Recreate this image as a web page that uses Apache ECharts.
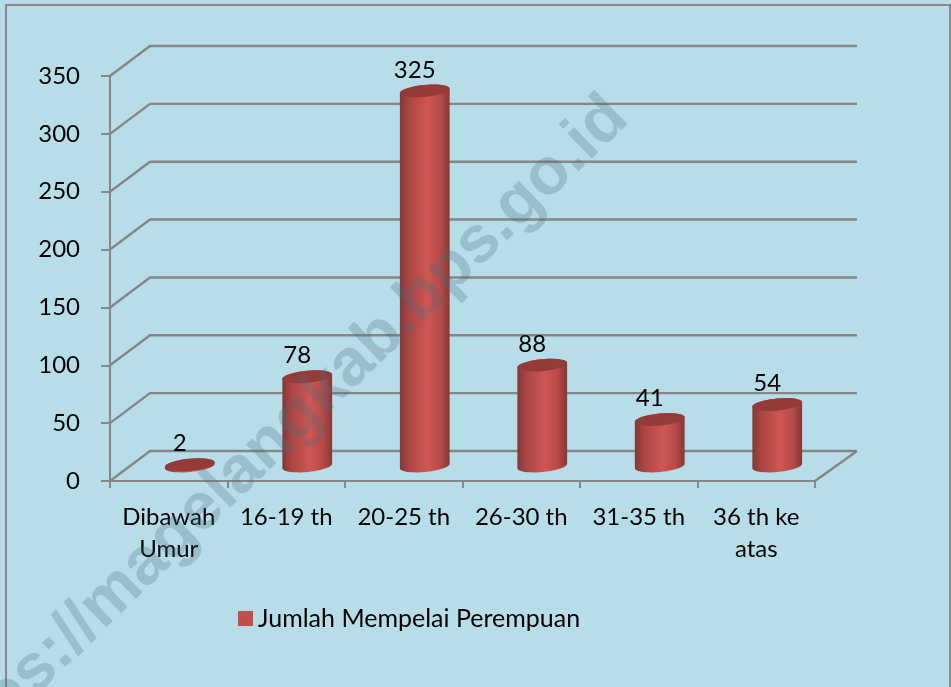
<!DOCTYPE html>
<html><head><meta charset="utf-8">
<style>html,body{margin:0;padding:0;background:#B7DDE8}#c{width:951px;height:687px}</style>
<script src="https://cdn.jsdelivr.net/npm/echarts@6/dist/echarts.min.js"></script>
</head><body><div id="c"></div>
<script>
const categories = ['Dibawah\nUmur','16-19 th','20-25 th','26-30 th','31-35 th','36 th ke\natas'];
const values = [2,78,325,88,41,54];
const yTicks = [0,50,100,150,200,250,300,350];
const seriesName = 'Jumlah Mempelai Perempuan';
const watermark = 'https://magelangkab.bps.go.id';

const FONT = 'Lato';
const AXIS = '#868686';
const DX = 40, DXR = 42, DY = -30;

function ell(cx, cy, rx, ry, a, t0, t1, n) {
  const pts = [];
  for (let i = 0; i <= n; i++) {
    const t = t0 + (t1 - t0) * i / n;
    const x = rx * Math.cos(t), y = ry * Math.sin(t);
    pts.push([cx + x * Math.cos(a) - y * Math.sin(a), cy + x * Math.sin(a) + y * Math.cos(a)]);
  }
  return pts;
}

const chart = echarts.init(document.getElementById('c'), null, {renderer: 'canvas'});
chart.setOption({
  animation: false,
  backgroundColor: '#B7DDE8',
  textStyle: {fontFamily: FONT},
  grid: {left: 110, right: 136, top: 76, bottom: 206, containLabel: false},
  legend: {
    show: true, left: 233, top: 601, icon: 'rect', itemWidth: 15, itemHeight: 15, itemGap: 5,
    textStyle: {fontFamily: FONT, fontSize: 25, color: '#000'},
    data: [seriesName]
  },
  xAxis: {
    type: 'category', data: categories,
    axisLine: {lineStyle: {color: AXIS, width: 2}},
    axisTick: {show: true, alignWithLabel: false, length: 7, lineStyle: {color: AXIS, width: 2}},
    axisLabel: {fontFamily: FONT, fontSize: 24, color: '#000', margin: 20, lineHeight: 32, interval: 0}
  },
  yAxis: {
    type: 'value', min: 0, max: 350, interval: 50,
    axisLine: {show: true, lineStyle: {color: AXIS, width: 2}},
    axisTick: {show: true, length: 9, lineStyle: {color: AXIS, width: 2}},
    axisLabel: {fontFamily: FONT, fontSize: 24, color: '#000', margin: 30, padding: [6, 0, 0, 0]},
    splitLine: {show: false}
  },
  series: [
    {
      type: 'custom', silent: true, z: 1, legendHoverLink: false,
      coordinateSystem: 'cartesian2d',
      encode: {x: 0, y: 1},
      data: yTicks.map(v => [0, v]),
      renderItem(params, api) {
        const c = api.coord([0, api.value(1)]);
        const band = api.size([1, 0])[0];
        const x0 = c[0] - band / 2, y0 = c[1];
        const x1 = x0 + band * categories.length;
        const style = {stroke: AXIS, lineWidth: 2.4, fill: null};
        const kids = [{type: 'polyline', shape: {points: [[x0, y0], [x0 + DX, y0 + DY], [x1 + DXR, y0 + DY]]}, style}];
        if (api.value(1) === 0) kids.push({type: 'line', shape: {x1: x1, y1: y0, x2: x1 + DXR, y2: y0 + DY}, style});
        return {type: 'group', children: kids};
      }
    },
    {
      name: seriesName, type: 'custom', z: 3,
      coordinateSystem: 'cartesian2d',
      itemStyle: {color: '#C0504D'},
      encode: {x: 0, y: 1},
      data: values.map((v, i) => [i, v]),
      renderItem(params, api) {
        const top = api.coord([api.value(0), api.value(1)]);
        const base = api.coord([api.value(0), 0]);
        const cx = base[0] + 21, by = base[1] - 15, ty = top[1] - 14;
        const rx = 25, ry = 6, a = -5.5 * Math.PI / 180;
        const body = ell(cx, by, rx, ry, a, 0, Math.PI, 24)
          .concat(ell(cx, ty, rx, ry, a, Math.PI, 2 * Math.PI, 24));
        return {type: 'group', children: [
          {type: 'polygon', shape: {points: body}, style: {
            fill: new echarts.graphic.LinearGradient(0, 0, 1, 0, [
              {offset: 0, color: '#843634'}, {offset: 0.18, color: '#a94644'},
              {offset: 0.55, color: '#cf5653'}, {offset: 0.8, color: '#b74c49'},
              {offset: 1, color: '#873835'}])
          }},
          {type: 'polygon', shape: {points: ell(cx, ty, rx, ry, a, 0, 2 * Math.PI, 48)}, style: {fill: '#943b39'}},
          {type: 'text', style: {
            x: cx - 10, y: ty - 21, text: String(api.value(1)), fill: '#000',
            font: '24px ' + FONT, align: 'center', verticalAlign: 'middle'
          }}
        ]};
      }
    }
  ],
  graphic: [
    {type: 'rect', z: 0, silent: true,
     shape: {x: 6, y: 5, width: 944, height: 700},
     style: {fill: null, stroke: '#8a8a8a', lineWidth: 2}},
    {type: 'text', z: 100, silent: true, x: 618, y: 108, rotation: 44 * Math.PI / 180,
     style: {text: watermark, font: 'bold 66px "Liberation Sans"', fill: 'rgba(70,110,125,0.27)',
             align: 'right', verticalAlign: 'middle'}}
  ]
});
</script></body></html>
